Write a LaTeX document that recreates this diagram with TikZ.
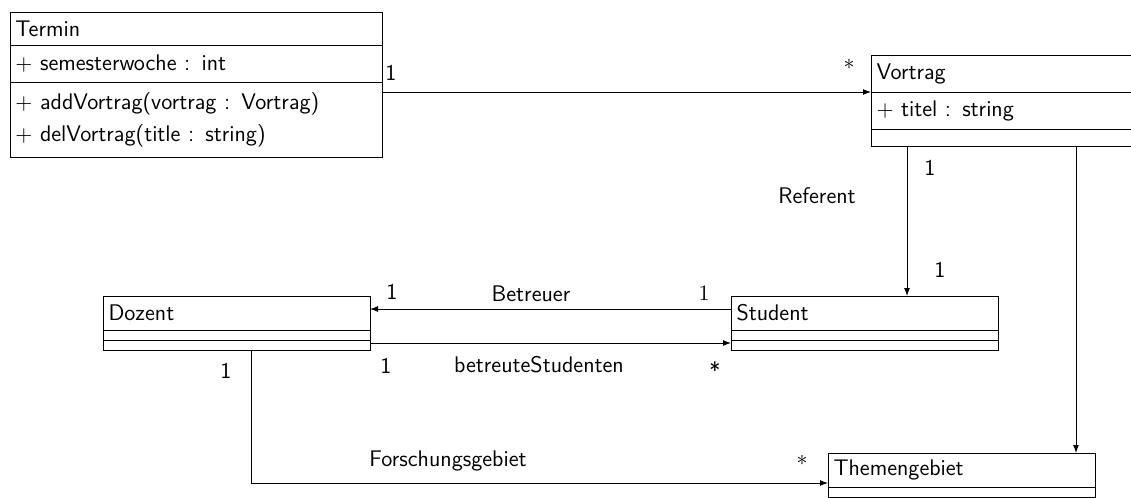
\documentclass[tikz,border=0pt]{standalone}
\usetikzlibrary{arrows.meta,calc}
\renewcommand\familydefault{\sfdefault}
\newcommand\umlfont{\fontsize{11.3pt}{13.6pt}\selectfont\sffamily}
\begin{document}
\begin{tikzpicture}[x=0.5pt,y=-0.5pt, line width=0.5pt,
  part/.style={anchor=north west, text width=#1, inner xsep=2.5pt,
    inner ysep=0pt, align=left, font=\umlfont},
  part/.default=128pt,
  assoc/.style={-{Latex[length=4pt,width=3pt]}},
  lbl/.style={font=\umlfont, inner sep=0pt}]
\useasboundingbox (0,0) rectangle (1131,498);

% class Termin
\node[part=180.5pt, minimum height=16pt] (termin-name) at (10,12) {Termin};
\node[part=180.5pt, minimum height=18pt] (termin-attr) at (termin-name.south west)
  {$+$ semesterwoche : int};
\node[part=180.5pt, minimum height=37pt] (termin-ops) at (termin-attr.south west)
  {$+$ addVortrag(vortrag : Vortrag)\\[2.4pt] $+$ delVortrag(title : string)};

% class Vortrag
\node[part, minimum height=18pt] (vortrag-name) at (871,55) {Vortrag};
\node[part, minimum height=18pt] (vortrag-attr) at (vortrag-name.south west)
  {$+$ titel : string};
\node[part, minimum height=8pt] (vortrag-ops) at (vortrag-attr.south west) {};

% class Dozent
\node[part, minimum height=16.5pt] (dozent-name) at (103,296) {Dozent};
\node[part, minimum height=4.5pt] (dozent-attr) at (dozent-name.south west) {};
\node[part, minimum height=4.5pt] (dozent-ops) at (dozent-attr.south west) {};

% class Student
\node[part, minimum height=16.5pt] (student-name) at (731,296) {Student};
\node[part, minimum height=4.5pt] (student-attr) at (student-name.south west) {};
\node[part, minimum height=4.5pt] (student-ops) at (student-attr.south west) {};

% class Themengebiet
\node[part, minimum height=16.5pt] (themen-name) at (828,453) {Themengebiet};
\node[part, minimum height=4.5pt] (themen-attr) at (themen-name.south west) {};
\node[part, minimum height=4.5pt] (themen-ops) at (themen-attr.south west) {};

% class frames and compartment separators
\foreach \c in {termin,vortrag,dozent,student,themen}{
  \draw (\c-name.north west) rectangle (\c-ops.south east);
  \draw (\c-name.south west) -- (\c-name.south east);
  \draw (\c-attr.south west) -- (\c-attr.south east);
}

% Termin -> Vortrag
\draw[assoc] (termin-ops.east |- vortrag-name.south west) -- (vortrag-name.south west);
\node[lbl] (m-termin) at (391,73) {1};
\node[lbl] (m-vortrag) at (849,64) {$*$};

% Vortrag -> Student (Referent)
\coordinate (ref-top) at ($(vortrag-ops.south west)+(36,0)$);
\draw[assoc] (ref-top) -- (ref-top |- student-name.north);
\node[lbl] (m-ref1) at (930,168) {1};
\node[lbl] (m-ref2) at (940,270) {1};
\node[lbl] (l-ref) at (817,196) {Referent};

% Vortrag -> Themengebiet
\coordinate (thema-top) at ($(themen-name.north east)+(-19,0)$);
\draw[assoc] (vortrag-ops.south -| thema-top) -- (thema-top);

% Student -> Dozent (Betreuer)
\coordinate (betr-start) at ($(student-name.north west)+(0,13)$);
\draw[assoc] (betr-start) -- (betr-start -| dozent-name.east);
\node[lbl] (m-betr1) at (392,292) {1};
\node[lbl] (l-betr) at (531,294) {Betreuer};
\node[lbl] (m-betr2) at (704,293) {$1$};

% Dozent -> Student (betreuteStudenten)
\coordinate (bs-start) at ($(dozent-ops.north east)+(0,3)$);
\draw[assoc] (bs-start) -- (bs-start -| student-ops.west);
\node[lbl] (m-bs1) at (386,366) {1};
\node[lbl] (l-bs) at (539,365) {betreuteStudenten};
\node[lbl] (m-bs2) at (715,370) {*};

% Dozent -> Themengebiet (Forschungsgebiet)
\coordinate (fg-start) at ($(dozent-ops.south west)+(148,0)$);
\coordinate (fg-end) at ($(themen-name.south west)+(0,-4)$);
\draw[assoc] (fg-start) |- (fg-end);
\node[lbl] (m-fg1) at (226,371) {1};
\node[lbl] (l-fg) at (448,461) {Forschungsgebiet};
\node[lbl] (m-fg2) at (802,460) {$*$};
\end{tikzpicture}
\end{document}
